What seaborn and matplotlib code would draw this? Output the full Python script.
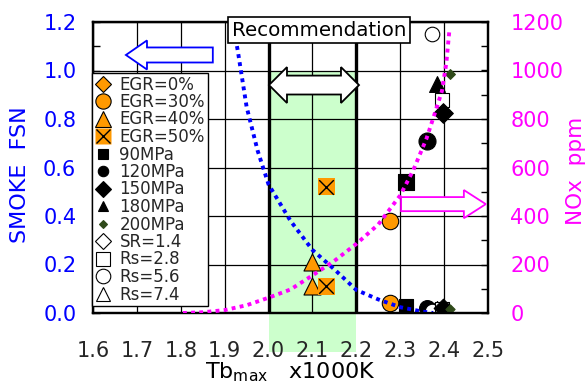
import numpy as np
import pandas as pd
import matplotlib
matplotlib.use("Agg")
import matplotlib.pyplot as plt
import seaborn as sns
from matplotlib.lines import Line2D
from matplotlib.patches import Rectangle, Polygon
from matplotlib.legend_handler import HandlerTuple
from matplotlib.ticker import MultipleLocator

# ---- measured points: peak burned-gas temperature (x1000 K), smoke (FSN), NOx (ppm)
egr30_tb, egr30_smoke, egr30_nox = [2.277], [0.04], [380]
egr40_tb, egr40_smoke, egr40_nox = [2.100], [0.21], [110]
egr50_tb, egr50_smoke, egr50_nox = [2.131], [0.52], [110]
p90_tb, p90_smoke, p90_nox = [2.313], [0.03], [540]
p120_tb, p120_smoke, p120_nox = [2.361], [0.02], [710]
p150_tb, p150_smoke, p150_nox = [2.397], [0.02], [825]
p180_tb, p180_smoke, p180_nox = [2.384], [0.02], [945]
p200_tb, p200_smoke, p200_nox = [2.413], [0.015], [985]
sr14_tb, sr14_smoke = [2.380], [0.012]
rs28_tb, rs28_smoke, rs28_nox = [2.395], [0.015], [880]
rs56_tb, rs56_smoke, rs56_nox = [2.372], [0.01], [1150]

# ---- trend curves
smoke_fit_tb = [1.918, 1.93, 1.95, 1.975, 2.0, 2.05, 2.1, 2.15, 2.2, 2.25, 2.3, 2.35, 2.375]
smoke_fit = [1.2, 1.08, 0.85, 0.67, 0.53, 0.38, 0.26, 0.18, 0.095, 0.056, 0.024, 0.006, 0.0]
nox_fit_tb = [1.805, 1.85, 1.9, 1.95, 2.0, 2.05, 2.1, 2.15, 2.2, 2.25, 2.3, 2.33, 2.36,
              2.38, 2.395, 2.405, 2.412]
nox_fit = [0, 3, 12, 32, 63, 97, 155, 215, 285, 365, 485, 590, 720, 830, 915, 1030, 1165]

# ---- axis ticks
x_ticks = [1.6, 1.7, 1.8, 1.9, 2.0, 2.1, 2.2, 2.3, 2.4, 2.5]
smoke_ticks = [0.0, 0.2, 0.4, 0.6, 0.8, 1.0, 1.2]
nox_ticks = [0, 200, 400, 600, 800, 1000, 1200]

sns.set_theme(style="white")
plt.rcParams["font.family"] = ["DejaVu Sans"]
plt.rcParams["mathtext.fontset"] = "dejavusans"

ORANGE = "#ff9900"
BLUE = "#0000ff"
MAGENTA = "#ff00ff"
GREEN_DARK = "#2f4a1a"

fig = plt.figure(figsize=(5.85, 3.87), dpi=100)
ax = fig.add_axes([93 / 585, 1 - 313 / 387, 395 / 585, 291 / 387])
ax2 = ax.twinx()
ax2.patch.set_visible(False)

ax.set_xlim(1.6, 2.5)
ax.set_ylim(0, 1.2)
ax2.set_ylim(0, 1200)

# recommended temperature window
ax.add_patch(Rectangle((2.0, -0.16), 0.2, 1.16, facecolor="#ccffcc", edgecolor="none",
                       clip_on=False, zorder=0))
ax.set_xticks(x_ticks)
ax.set_xticklabels([f"{v:.1f}" for v in x_ticks], fontsize=15)
ax.set_yticks(smoke_ticks)
ax.set_yticklabels([f"{v:.1f}" for v in smoke_ticks], fontsize=15, color=BLUE)
ax.yaxis.set_minor_locator(MultipleLocator(0.1))
ax2.set_yticks(nox_ticks)
ax2.set_yticklabels([str(v) for v in nox_ticks], fontsize=15, color=MAGENTA)
ax2.yaxis.set_minor_locator(MultipleLocator(100))
ax.grid(True, which="major", color="black", lw=0.9, zorder=1)
ax.set_axisbelow(True)
for xv in (2.0, 2.2):
    ax.axvline(xv, color="black", lw=2.4, zorder=1.5)

ax.tick_params(axis="x", which="both", length=0, pad=20)
ax.tick_params(axis="y", which="both", direction="in", length=5, width=1, color="black",
               pad=12)
ax2.tick_params(axis="y", which="both", direction="in", length=5, width=1, color="black",
                pad=16)
for a in (ax, ax2):
    for s in a.spines.values():
        s.set_color("black")
        s.set_linewidth(1.6)

# ---- markers
def pts(a, x, y, marker, size, fc, ec="black", lw=0.8, z=3):
    sns.scatterplot(x=x, y=y, ax=a, marker=marker, s=size, color=fc, edgecolor=ec,
                    linewidth=lw, legend=False, zorder=z)

# smoke (left axis)
pts(ax, egr30_tb, egr30_smoke, "o", 140, ORANGE)
pts(ax, egr40_tb, egr40_smoke, "^", 150, ORANGE)
pts(ax, egr50_tb, egr50_smoke, "s", 150, ORANGE, ec="none")
pts(ax, egr50_tb, egr50_smoke, "x", 110, "black", ec="black", lw=1.0, z=3.1)
pts(ax, p90_tb, p90_smoke, "s", 110, "black")
pts(ax, p120_tb, p120_smoke, "o", 130, "black")
pts(ax, sr14_tb, sr14_smoke, "D", 60, "white")
pts(ax, p180_tb, p180_smoke, "^", 100, "black")
pts(ax, rs56_tb, rs56_smoke, "o", 110, "white")
pts(ax, rs28_tb, rs28_smoke, "s", 110, "white")
pts(ax, p150_tb, p150_smoke, "D", 90, "black")
pts(ax, p200_tb, p200_smoke, "D", 22, GREEN_DARK, ec=GREEN_DARK)

# NOx (right axis)
pts(ax2, egr30_tb, egr30_nox, "o", 140, ORANGE)
pts(ax2, egr40_tb, egr40_nox, "^", 150, ORANGE)
pts(ax2, egr50_tb, egr50_nox, "s", 150, ORANGE, ec="none")
pts(ax2, egr50_tb, egr50_nox, "x", 110, "black", ec="black", lw=1.0, z=3.1)
pts(ax2, p90_tb, p90_nox, "s", 130, "black")
pts(ax2, p120_tb, p120_nox, "o", 150, "black")
pts(ax2, p180_tb, p180_nox, "^", 130, "black")
pts(ax2, rs28_tb, rs28_nox, "s", 110, "white")
pts(ax2, p150_tb, p150_nox, "D", 100, "black")
pts(ax2, p200_tb, p200_nox, "D", 25, GREEN_DARK, ec=GREEN_DARK)
pts(ax2, rs56_tb, rs56_nox, "o", 110, "white")

# ---- trend curves
sns.lineplot(x=smoke_fit_tb, y=smoke_fit, ax=ax, sort=False, estimator=None, color=BLUE,
             lw=2.8, linestyle=(0, (1, 1.1)), zorder=4)
sns.lineplot(x=nox_fit_tb, y=nox_fit, ax=ax2, sort=False, estimator=None, color=MAGENTA,
             lw=2.8, linestyle=(0, (1, 1.1)), zorder=4)

# ---- block arrows
def block_arrow(a, x_tail, x_tip, y, shaft, head, head_len, both=False, **kw):
    d = 1 if x_tip > x_tail else -1
    xb = x_tip - d * head_len
    if both:
        xa = x_tail + d * head_len
        verts = [(x_tail, y), (xa, y + head), (xa, y + shaft), (xb, y + shaft),
                 (xb, y + head), (x_tip, y), (xb, y - head), (xb, y - shaft),
                 (xa, y - shaft), (xa, y - head)]
    else:
        verts = [(x_tail, y + shaft), (xb, y + shaft), (xb, y + head), (x_tip, y),
                 (xb, y - head), (xb, y - shaft), (x_tail, y - shaft)]
    a.add_patch(Polygon(verts, closed=True, clip_on=False, zorder=5, **kw))

block_arrow(ax, 1.873, 1.675, 1.064, 0.031, 0.060, 0.048,
            facecolor="white", edgecolor=BLUE, lw=1.3)
block_arrow(ax, 2.001, 2.206, 0.940, 0.039, 0.074, 0.041, both=True,
            facecolor="white", edgecolor="black", lw=1.3)
block_arrow(ax2, 2.302, 2.495, 449, 29, 58, 0.050,
            facecolor="white", edgecolor=MAGENTA, lw=1.3)

ax2.text(2.115, 1.167, "Recommendation", transform=ax.transData, ha="center",
         va="center", fontsize=14.3, color="black", zorder=10, clip_on=False,
         bbox=dict(boxstyle="square,pad=0.2", facecolor="white", edgecolor="black",
                   lw=1.2))

# ---- axis labels
ax.set_xlabel(r"Tb$_{\mathrm{max}}$   x1000K", fontsize=16, color="black", labelpad=0)
ax.set_ylabel("SMOKE  FSN", fontsize=16, color=BLUE)
ax.yaxis.set_label_coords(-0.16, 0.474)
ax2.set_ylabel("NOx  ppm", fontsize=15.5, color=MAGENTA)
ax2.yaxis.set_label_coords(1.197, 0.49)

# ---- legend
def h(marker, ms, fc, ec="black", mew=0.8):
    return Line2D([], [], ls="none", marker=marker, ms=ms, markerfacecolor=fc,
                  markeredgecolor=ec, markeredgewidth=mew)

handles = [
    h("D", 8, ORANGE),
    h("o", 11, ORANGE),
    h("^", 11, ORANGE),
    (h("s", 11, ORANGE, ec="none"), h("x", 10, "black", mew=1.0)),
    h("s", 7, "black"),
    h("o", 7.5, "black"),
    h("D", 8, "black"),
    h("^", 7.5, "black"),
    h("D", 4.5, GREEN_DARK, ec=GREEN_DARK),
    h("D", 8, "white"),
    h("s", 10, "white"),
    h("o", 10.5, "white"),
    h("^", 10.5, "white"),
]
labels = ["EGR=0%", "EGR=30%", "EGR=40%", "EGR=50%", "90MPa", "120MPa", "150MPa",
          "180MPa", "200MPa", "SR=1.4", "Rs=2.8", "Rs=5.6", "Rs=7.4"]
leg = ax2.legend(handles, labels, loc="upper left",
                 bbox_to_anchor=(92 / 585, 1 - 73 / 387), bbox_transform=fig.transFigure,
                 borderaxespad=0, fontsize=12, frameon=True, fancybox=False,
                 edgecolor="black", framealpha=1, handlelength=1.0, handletextpad=0.5,
                 labelspacing=-0.03, borderpad=0.15,
                 handler_map={tuple: HandlerTuple(ndivide=1, pad=0)})
leg.get_frame().set_linewidth(1.0)
leg.set_zorder(20)

fig.savefig("out.png", dpi=100)
